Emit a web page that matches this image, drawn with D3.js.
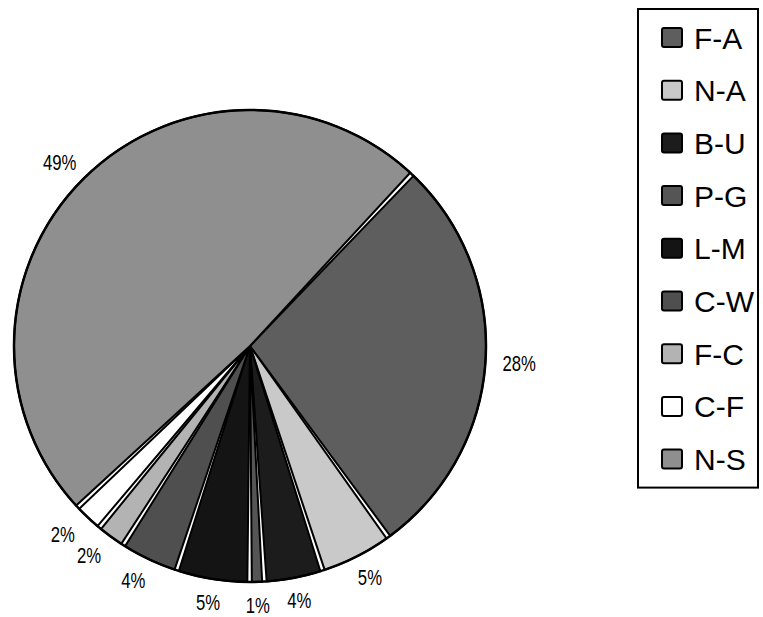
<!DOCTYPE html>
<html>
<head>
<meta charset="utf-8">
<script src="https://cdn.jsdelivr.net/npm/d3@7"></script>
<style>
  html, body { margin: 0; padding: 0; background: #fff; }
  svg { display: block; }
  text { font-family: "Liberation Sans", Arial, sans-serif; fill: #000; }
</style>
</head>
<body>
<svg id="chart" width="763" height="617"></svg>
<script>
// ---- data ----
const categories = ["F-A", "N-A", "B-U", "P-G", "L-M", "C-W", "F-C", "C-F", "N-S"];
const values     = [28, 5, 4, 1, 5, 4, 2, 2, 49];
const labels     = ["28%", "5%", "4%", "1%", "5%", "4%", "2%", "2%", "49%"];
const fills      = ["#5e5e5e", "#c9c9c9", "#1c1c1c", "#555555", "#141414", "#4f4f4f", "#b3b3b3", "#ffffff", "#8f8f8f"];

// ---- layout ----
const cx = 250, cy = 346, r = 236;
const startDeg = 43.3;

const svg = d3.select("#chart");
const g = svg.append("g").attr("transform", `translate(${cx},${cy})`);

const pie = d3.pie()
  .sort(null)
  .value(d => d.value)
  .startAngle(startDeg * Math.PI / 180)
  .endAngle(startDeg * Math.PI / 180 + 2 * Math.PI);

const data = categories.map((c, i) => ({ cat: c, value: values[i], label: labels[i], fill: fills[i] }));
const arcs = pie(data);

const arc = d3.arc()
  .innerRadius(0)
  .outerRadius(r)
  .padAngle(4.5 / r)
  .padRadius(r);

g.selectAll("path.slice")
  .data(arcs)
  .join("path")
  .attr("class", "slice")
  .attr("d", arc)
  .attr("fill", d => d.data.fill)
  .attr("stroke", "#000")
  .attr("stroke-width", 2)
  .attr("stroke-linejoin", "miter");

// continuous outer rim
g.append("circle")
  .attr("r", r)
  .attr("fill", "none")
  .attr("stroke", "#000")
  .attr("stroke-width", 2.5);

// ---- percentage labels ----
const labelR = r + 17;
const lg = g.selectAll("g.lbl")
  .data(arcs)
  .join("g")
  .attr("class", "lbl");

lg.append("text")
  .attr("text-anchor", "middle")
  .attr("dominant-baseline", "central")
  .style("font-size", "22px")
  .text(d => d.data.label);

lg.each(function(d) {
  const t = d3.select(this).select("text");
  const bb = t.node().getBBox();
  const hw = bb.width * 0.76 / 2, hh = 6;
  const mid = (d.startAngle + d.endAngle) / 2;
  const s = Math.sin(mid), c = Math.cos(mid);
  // a little extra reach on the lower-left side, as in the reference
  const extra = (s < -0.3 && c < 0) ? 8 : 0;
  const x = s * (labelR + extra) + s * hw;
  const y = -c * labelR - c * hh;
  d3.select(this).attr("transform", `translate(${x},${y}) scale(0.76,1)`);
});

// ---- legend ----
const legX = 638, legY = 9, rowH = 52.7, firstRow = 38;
const legW = 120, legH = firstRow - legY + rowH * (categories.length - 1) + 28;

svg.append("rect")
  .attr("x", legX).attr("y", legY)
  .attr("width", legW).attr("height", legH)
  .attr("fill", "#fff")
  .attr("stroke", "#000")
  .attr("stroke-width", 2);

const rowY = d3.scalePoint()
  .domain(categories)
  .range([firstRow, firstRow + rowH * (categories.length - 1)]);

const items = svg.selectAll("g.leg")
  .data(data)
  .join("g")
  .attr("class", "leg")
  .attr("transform", d => `translate(${legX}, ${rowY(d.cat)})`);

items.append("rect")
  .attr("x", 24).attr("y", -10)
  .attr("width", 20).attr("height", 19)
  .attr("rx", 2)
  .attr("fill", d => d.fill)
  .attr("stroke", "#000")
  .attr("stroke-width", 2);

items.append("text")
  .attr("x", 56)
  .attr("y", 0)
  .attr("dominant-baseline", "central")
  .style("font-size", "30px")
  .text(d => d.cat);
</script>
</body>
</html>
